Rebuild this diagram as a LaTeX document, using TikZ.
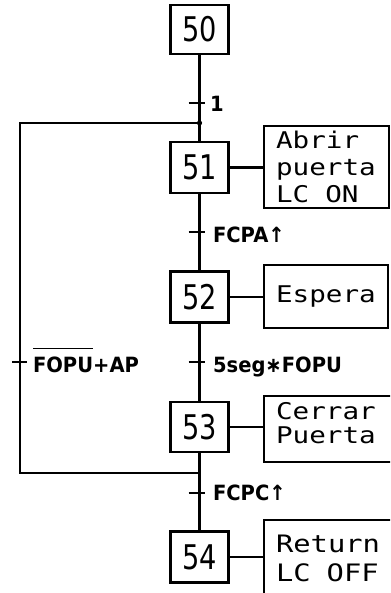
\documentclass[tikz,border=0pt]{standalone}
\usepackage{fontspec}
\newfontfamily\numfont[FakeStretch=0.8]{DejaVu Sans}
\newfontfamily\actfont[FakeStretch=1.2]{DejaVu Sans Mono}
\newfontfamily\trfont[FakeStretch=0.93]{DejaVu Sans}
\newcommand\myovl[1]{\vbox{\hrule height 1.8pt\kern 7pt\hbox{#1}}}
\begin{document}
\begin{tikzpicture}[x=1pt,y=-1pt,line width=2.1pt,
  stepbox/.style={draw,minimum width=58,minimum height=51,inner sep=0,
    font=\numfont\fontsize{34}{34}\selectfont},
  actbox/.style={draw,anchor=north west,align=left,inner xsep=12,inner ysep=0},
  trlabel/.style={anchor=base west,inner sep=0,font=\trfont\bfseries\fontsize{21}{21}\selectfont}]
\clip (0,0) rectangle (390,593);
% steps
\node[stepbox,minimum height=49] (s50) at (199.5,29.5) {50};
\node[stepbox] (s51) at (199.5,167.5) {51};
\node[stepbox] (s52) at (199.5,297) {52};
\node[stepbox,minimum height=50] (s53) at (199.5,427) {53};
\node[stepbox] (s54) at (199.5,557) {54};
% actions
\node[actbox,minimum height=82,text width=101,font=\actfont\fontsize{23}{27}\selectfont]
  (a51) at (263,125) {Abrir\\puerta\\LC\hspace{16pt}ON};
\node[actbox,minimum height=63,text width=100,font=\actfont\fontsize{23}{27}\selectfont]
  (a52) at (263,264) {Espera};
\node[actbox,minimum height=66,text width=110,font=\actfont\fontsize{23}{24}\selectfont]
  (a53) at (263,395) {Cerrar\\Puerta\rule[-12pt]{0pt}{0pt}};
\node[actbox,minimum height=76,text width=110,font=\actfont\fontsize{24}{29}\selectfont]
  (a54) at (263,519) {Return\\LC\hspace{16pt}OFF};
% coordinates
\coordinate (t1) at (199.5,103);
\coordinate (t2) at (199.5,232);
\coordinate (t3) at (199.5,362);
\coordinate (t4) at (199.5,493);
\coordinate (j1) at (199.5,123);
\coordinate (j2) at (199.5,473);
\coordinate (tl) at (20,362);
% main line
\draw (s50) -- (s51);
\draw (s51) -- (s52);
\draw (s52) -- (s53);
\draw (s53) -- (s54);
% action links
\draw (s51) -- (s51 -| a51.west);
\draw (s52) -- (s52 -| a52.west);
\draw (s53) -- (s53 -| a53.west);
\draw (s54) -- (s54 -| a54.west);
% loop
\draw (j2) -| (tl) |- (j1);
\fill (j1) circle (2.6);
% transitions
\draw ([xshift=-11pt]t1) -- ([xshift=5pt]t1);
\draw ([xshift=-11pt]t2) -- ([xshift=5pt]t2);
\draw ([xshift=-11pt]t3) -- ([xshift=5pt]t3);
\draw ([xshift=-11pt]t4) -- ([xshift=5pt]t4);
\draw ([xshift=-8pt]tl) -- ([xshift=7pt]tl);
\node[trlabel] (l1) at (209,112) {1};
\node[trlabel] (l2) at (212,243) {FCPA↑};
\node[trlabel] (l3) at (212,372) {5seg∗FOPU};
\node[trlabel] (l4) at (212,500) {FCPC↑};
\node[trlabel] (ll) at (32,372) {\myovl{FOPU}+AP};
\end{tikzpicture}
\end{document}
